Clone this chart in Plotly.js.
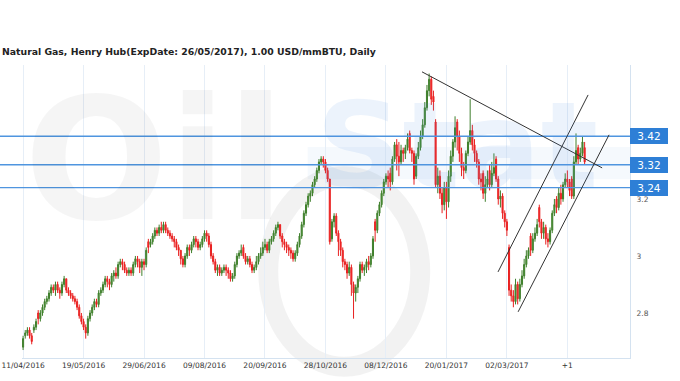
<!DOCTYPE html>
<html>
<head>
<meta charset="utf-8">
<script src="https://cdn.plot.ly/plotly-3.0.1.min.js"></script>
<style>html,body{margin:0;padding:0;background:#fff;}#chart{width:680px;height:381px;}</style>
</head>
<body>
<div id="chart"></div>
<script>
// Trading-day index labels (every 28 sessions)
var tickIdx = [0, 28, 56, 84, 112, 140, 168, 196, 224, 252];
var tickLabels = ["11/04/2016", "19/05/2016", "29/06/2016", "09/08/2016", "20/09/2016", "28/10/2016", "08/12/2016", "20/01/2017", "02/03/2017", "+1"];

var openP = [
2.68,2.72,2.73,2.74,2.72,2.74,2.75,2.80,2.78,2.80,
2.82,2.84,2.85,2.87,2.89,2.88,2.90,2.88,2.87,2.90,
2.92,2.88,2.87,2.86,2.85,2.84,2.82,2.79,2.77,2.75,
2.73,2.78,2.80,2.82,2.84,2.83,2.87,2.88,2.90,2.92,
2.91,2.90,2.93,2.94,2.93,2.97,2.98,2.97,2.95,2.94,
2.95,2.94,2.97,2.99,2.98,2.96,2.98,2.97,3.05,3.04,
3.05,3.07,3.09,3.08,3.10,3.09,3.11,3.09,3.08,3.07,
3.06,3.05,3.03,3.02,2.99,2.97,3.00,3.03,3.02,3.04,
3.06,3.05,3.03,3.04,3.06,3.08,3.07,3.04,3.00,2.98,
2.95,2.96,2.94,2.95,2.96,2.95,2.94,2.92,2.93,2.97,
3.00,3.01,3.03,3.00,2.98,2.99,2.97,2.95,2.96,2.98,
3.00,3.01,3.03,3.04,3.02,3.05,3.06,3.08,3.10,3.11,
3.07,3.05,3.04,3.03,3.02,3.01,2.99,3.01,3.04,3.07,
3.11,3.15,3.18,3.21,3.22,3.25,3.27,3.30,3.33,3.34,
3.33,3.30,3.27,3.06,3.12,3.14,3.08,3.05,3.02,2.98,
2.97,2.94,2.96,2.90,2.87,2.89,2.92,2.97,2.95,2.96,
2.98,2.97,3.00,3.12,3.09,3.15,3.18,3.22,3.26,3.28,
3.29,3.26,3.34,3.39,3.35,3.33,3.37,3.36,3.38,3.43,
3.37,3.36,3.28,3.35,3.38,3.42,3.46,3.52,3.58,3.62,
3.56,3.47,3.25,3.28,3.22,3.18,3.24,3.19,3.28,3.35,
3.40,3.47,3.42,3.36,3.31,3.30,3.36,3.40,3.44,3.39,
3.36,3.33,3.27,3.29,3.22,3.25,3.30,3.25,3.29,3.34,
3.27,3.20,3.21,3.15,3.12,3.03,2.88,2.86,2.84,2.90,
2.85,2.90,2.93,2.97,3.00,3.07,3.02,3.06,3.08,3.17,
3.12,3.08,3.10,3.06,3.05,3.09,3.15,3.20,3.17,3.22,
3.20,3.25,3.27,3.26,3.27,3.21,3.33,3.38,3.34,3.36,
3.38
];
var highP = [
2.72,2.74,2.75,2.75,2.73,2.76,2.78,2.81,2.81,2.83,
2.85,2.86,2.88,2.90,2.90,2.91,2.91,2.89,2.91,2.93,
2.92,2.89,2.88,2.87,2.86,2.85,2.83,2.80,2.78,2.76,
2.79,2.81,2.83,2.85,2.85,2.88,2.89,2.91,2.93,2.93,
2.92,2.94,2.95,2.96,2.98,2.99,2.99,2.98,2.96,2.96,
2.96,2.98,3.00,3.00,2.99,2.99,2.99,3.03,3.06,3.06,
3.08,3.10,3.10,3.11,3.12,3.12,3.12,3.10,3.09,3.08,
3.07,3.06,3.04,3.02,3.00,3.01,3.04,3.04,3.05,3.07,
3.07,3.06,3.05,3.07,3.09,3.09,3.08,3.05,3.01,2.99,
2.97,2.97,2.96,2.97,2.97,2.96,2.95,2.94,2.98,3.01,
3.02,3.04,3.04,3.01,3.00,3.00,2.98,2.97,3.00,3.01,
3.03,3.05,3.06,3.05,3.06,3.07,3.09,3.11,3.12,3.11,
3.08,3.06,3.05,3.04,3.03,3.02,3.02,3.05,3.08,3.12,
3.16,3.19,3.22,3.23,3.26,3.28,3.31,3.34,3.35,3.35,
3.34,3.31,3.27,3.13,3.15,3.15,3.09,3.06,3.03,2.99,
2.98,2.98,2.97,2.91,2.90,2.93,2.98,2.98,2.97,2.99,
3.00,3.01,3.07,3.13,3.16,3.19,3.23,3.27,3.29,3.30,
3.31,3.35,3.40,3.41,3.40,3.39,3.38,3.39,3.43,3.44,
3.38,3.37,3.36,3.40,3.44,3.48,3.54,3.60,3.64,3.63,
3.58,3.48,3.31,3.30,3.24,3.26,3.26,3.30,3.37,3.41,
3.49,3.48,3.44,3.38,3.33,3.37,3.42,3.55,3.46,3.41,
3.37,3.34,3.29,3.30,3.28,3.30,3.32,3.33,3.36,3.35,
3.28,3.23,3.22,3.16,3.13,3.04,2.90,2.88,2.92,2.91,
2.92,2.95,2.99,3.02,3.03,3.08,3.08,3.10,3.13,3.18,
3.13,3.12,3.11,3.08,3.10,3.16,3.20,3.21,3.24,3.25,
3.26,3.29,3.30,3.27,3.28,3.35,3.43,3.39,3.38,3.42,
3.40
];
var lowP = [
2.67,2.71,2.72,2.71,2.69,2.73,2.74,2.76,2.77,2.79,
2.81,2.83,2.84,2.86,2.87,2.86,2.87,2.85,2.86,2.89,
2.87,2.86,2.85,2.84,2.83,2.81,2.78,2.76,2.74,2.71,
2.72,2.77,2.79,2.81,2.82,2.82,2.86,2.87,2.89,2.89,
2.88,2.89,2.91,2.92,2.92,2.96,2.95,2.94,2.93,2.93,
2.93,2.93,2.96,2.96,2.94,2.93,2.95,2.96,3.01,3.03,
3.04,3.06,3.07,3.07,3.08,3.08,3.08,3.07,3.06,3.05,
3.03,3.02,3.00,2.97,2.96,2.96,2.99,3.00,3.01,3.03,
3.03,3.02,3.02,3.03,3.05,3.05,3.03,2.99,2.97,2.94,
2.93,2.93,2.93,2.94,2.93,2.92,2.91,2.91,2.92,2.96,
2.99,3.00,2.99,2.97,2.97,2.96,2.94,2.94,2.95,2.97,
2.99,3.00,3.02,3.01,3.01,3.04,3.05,3.07,3.09,3.06,
3.03,3.02,3.01,3.00,2.99,2.98,2.98,3.00,3.03,3.06,
3.10,3.14,3.17,3.19,3.21,3.24,3.26,3.29,3.32,3.31,
3.29,3.26,3.04,3.05,3.10,3.07,3.00,3.00,2.96,2.95,
2.92,2.93,2.86,2.78,2.84,2.87,2.91,2.94,2.93,2.94,
2.95,2.96,2.99,3.05,3.08,3.14,3.17,3.21,3.25,3.24,
3.23,3.25,3.33,3.30,3.28,3.32,3.33,3.34,3.37,3.36,
3.33,3.25,3.27,3.34,3.37,3.41,3.45,3.51,3.56,3.53,
3.51,3.24,3.22,3.20,3.15,3.16,3.13,3.17,3.26,3.33,
3.38,3.37,3.33,3.28,3.27,3.29,3.35,3.39,3.37,3.33,
3.31,3.25,3.23,3.20,3.19,3.24,3.23,3.24,3.28,3.26,
3.18,3.17,3.13,3.10,3.07,2.86,2.84,2.82,2.83,2.83,
2.84,2.89,2.92,2.96,2.99,3.00,3.01,3.05,3.07,3.10,
3.06,3.06,3.04,3.03,3.04,3.08,3.14,3.15,3.16,3.18,
3.19,3.24,3.24,3.21,3.20,3.20,3.32,3.32,3.33,3.35,
3.32
];
var closeP = [
2.71,2.73,2.74,2.72,2.70,2.75,2.77,2.78,2.80,2.82,
2.84,2.85,2.87,2.89,2.88,2.90,2.88,2.87,2.90,2.92,
2.88,2.87,2.86,2.85,2.84,2.82,2.79,2.77,2.75,2.73,
2.78,2.80,2.82,2.84,2.83,2.87,2.88,2.90,2.92,2.91,
2.90,2.93,2.94,2.93,2.97,2.98,2.97,2.95,2.94,2.95,
2.94,2.97,2.99,2.98,2.96,2.98,2.97,3.02,3.03,3.05,
3.07,3.09,3.08,3.10,3.09,3.11,3.09,3.08,3.07,3.06,
3.05,3.03,3.02,2.99,2.97,3.00,3.03,3.02,3.04,3.06,
3.05,3.03,3.04,3.06,3.08,3.07,3.04,3.00,2.98,2.95,
2.96,2.94,2.95,2.96,2.95,2.94,2.92,2.93,2.97,3.00,
3.01,3.02,3.00,2.98,2.99,2.97,2.95,2.96,2.98,3.00,
3.01,3.03,3.04,3.02,3.05,3.06,3.08,3.10,3.11,3.07,
3.05,3.04,3.03,3.02,3.01,2.99,3.01,3.04,3.07,3.11,
3.15,3.18,3.21,3.22,3.25,3.27,3.30,3.33,3.34,3.33,
3.30,3.27,3.05,3.12,3.14,3.08,3.05,3.02,2.98,2.97,
2.94,2.96,2.90,2.87,2.89,2.92,2.97,2.95,2.96,2.98,
2.97,3.00,3.06,3.09,3.15,3.18,3.22,3.26,3.28,3.27,
3.26,3.34,3.39,3.35,3.33,3.37,3.36,3.38,3.41,3.37,
3.36,3.27,3.35,3.38,3.42,3.46,3.52,3.58,3.62,3.55,
3.54,3.25,3.28,3.22,3.18,3.24,3.19,3.28,3.35,3.40,
3.45,3.42,3.36,3.31,3.30,3.36,3.40,3.44,3.39,3.36,
3.33,3.27,3.26,3.22,3.25,3.27,3.25,3.29,3.31,3.27,
3.20,3.21,3.15,3.12,3.09,2.88,2.86,2.84,2.90,2.85,
2.90,2.93,2.97,3.00,3.02,3.02,3.06,3.08,3.11,3.12,
3.08,3.10,3.06,3.05,3.09,3.15,3.18,3.17,3.22,3.20,
3.25,3.27,3.26,3.23,3.21,3.33,3.37,3.34,3.36,3.40,
3.33
];

// Support / resistance levels
var levels = [3.42, 3.32, 3.24];
var levelLabels = ["3.42", "3.32", "3.24"];

// Hand-drawn trend lines: [x0, y0, x1, y1] in (session index, price)
var trendDown = [184.7, 3.646, 268.1, 3.309];
var channelUp = [219.9, 2.944, 261.6, 3.565];
var channelLow = [229.2, 2.804, 271.3, 3.425];

var yTicks = [2.8, 3, 3.2];
var yTickText = ["2.8", "3", "3.2"];

var idx = [];
for (var i = 0; i < closeP.length; i++) idx.push(i);

var trace = {
  type: 'candlestick',
  x: idx, open: openP, high: highP, low: lowP, close: closeP,
  increasing: {line: {color: '#3f7f2c', width: 1}, fillcolor: '#4c9a34'},
  decreasing: {line: {color: '#e82020', width: 1}, fillcolor: '#ff2a2a'},
  whiskerwidth: 0,
  hoverinfo: 'skip',
  showlegend: false
};

var shapes = [];
// watermark ring and light-blue band
shapes.push({type: 'circle', xref: 'paper', yref: 'paper', layer: 'below',
  x0: 0.405, x1: 0.655, y0: -0.03, y1: 0.62,
  line: {color: 'rgba(0,0,0,0.05)', width: 20}});
shapes.push({type: 'rect', xref: 'paper', yref: 'paper', layer: 'below',
  x0: 0.47, x1: 1.0, y0: 0.61, y1: 0.72, line: {width: 0},
  fillcolor: 'rgba(120,170,230,0.07)'});
levels.forEach(function (v) {
  shapes.push({type: 'line', xref: 'paper', yref: 'y', x0: -0.037, x1: 1, y0: v, y1: v,
    line: {color: '#4f95df', width: 1.3}});
});
[trendDown, channelUp, channelLow].forEach(function (t) {
  shapes.push({type: 'line', xref: 'x', yref: 'y', x0: t[0], y0: t[1], x1: t[2], y1: t[3],
    line: {color: '#333333', width: 1}});
});

var annotations = [];
annotations.push({xref: 'paper', yref: 'paper', x: 0.0, y: 1.02, xanchor: 'left', yanchor: 'top',
  text: '<b>Oil</b>', showarrow: false, font: {family: 'DejaVu Sans', size: 170, color: 'rgba(0,0,0,0.04)'}});
annotations.push({xref: 'paper', yref: 'paper', x: 0.48, y: 0.97, xanchor: 'left', yanchor: 'top',
  text: '<b>Stat</b>', showarrow: false, font: {family: 'DejaVu Sans', size: 120, color: 'rgba(80,150,225,0.11)'}});
levels.forEach(function (v, k) {
  annotations.push({xref: 'paper', yref: 'y', x: 1, y: v, xanchor: 'left', yanchor: 'middle',
    text: levelLabels[k], showarrow: false, bgcolor: '#2e7fd6', bordercolor: '#2e7fd6', borderwidth: 1,
    borderpad: 1, width: 34, height: 12,
    font: {family: 'DejaVu Sans', size: 10.5, color: '#ffffff'}});
});

var layout = {
  width: 680, height: 381,
  margin: {l: 22, r: 50, t: 65, b: 23},
  paper_bgcolor: '#ffffff', plot_bgcolor: 'rgba(0,0,0,0)',
  title: {text: '<b>Natural Gas, Henry Hub(ExpDate: 26/05/2017), 1.00 USD/mmBTU, Daily</b>',
    xref: 'container', yref: 'container', x: 0.003, xanchor: 'left', y: 0.863, yanchor: 'middle',
    font: {family: 'DejaVu Sans', size: 9.3, color: '#222222'}},
  xaxis: {range: [-0.5, 281], tickmode: 'array', tickvals: tickIdx, ticktext: tickLabels,
    showgrid: true, gridcolor: '#e6eef7', gridwidth: 1, showline: true, linecolor: '#d4e2f0',
    ticks: '', zeroline: false, rangeslider: {visible: false},
    tickfont: {family: 'DejaVu Sans', size: 7.5, color: '#333333'}},
  yaxis: {range: [2.642, 3.67], side: 'right', tickmode: 'array', tickvals: yTicks, ticktext: yTickText,
    showgrid: false, showline: true, linecolor: '#d4e2f0', zeroline: false, ticks: '',
    ticklabelstandoff: 4,
    tickfont: {family: 'DejaVu Sans', size: 7.5, color: '#555555'}},
  shapes: shapes,
  annotations: annotations
};

Plotly.newPlot('chart', [trace], layout, {staticPlot: true, displayModeBar: false});
</script>
</body>
</html>
